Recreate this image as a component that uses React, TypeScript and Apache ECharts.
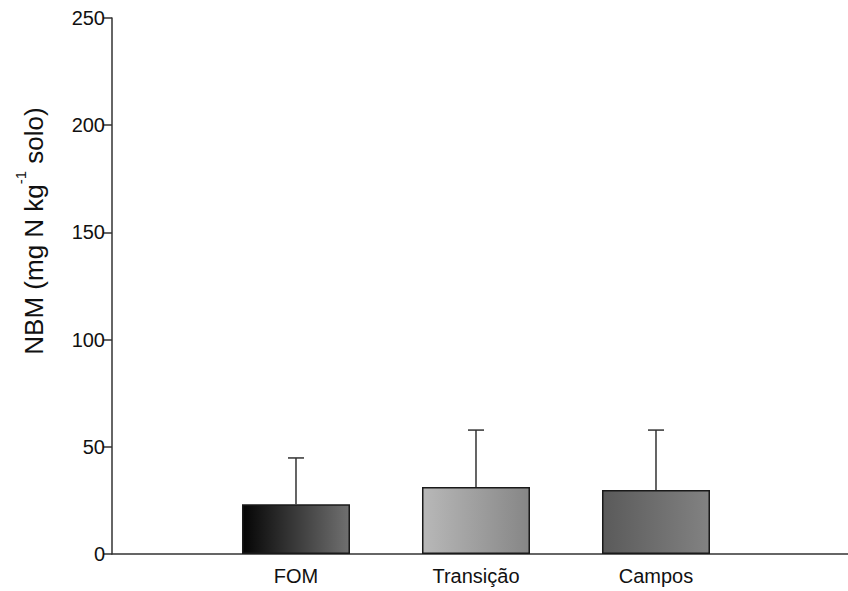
import React, { useEffect, useRef } from "react";
import * as echarts from "echarts";

const categories = ["FOM", "Transição", "Campos"];
const means = [23.2, 31.3, 29.9];
const errors = [21.6, 26.5, 27.9];
const yTicks = [0, 50, 100, 150, 200, 250];
const gradients = [
  ["#050505", "#707070"],
  ["#b8b8b8", "#868686"],
  ["#5a5a5a", "#828282"],
];

export default function App() {
  const ref = useRef<HTMLDivElement>(null);
  useEffect(() => {
    if (!ref.current) return;
    const chart = echarts.init(ref.current, null, { renderer: "svg" });
    const positions = categories.map((_, i) => i + 1);
    chart.setOption({
      animation: false,
      backgroundColor: "#ffffff",
      grid: { left: 112, right: 0, top: 18, bottom: 37 },
      xAxis: {
        type: "value",
        min: -0.0222,
        max: 4.0667,
        axisLine: { show: true, onZero: false, lineStyle: { color: "#333", width: 1.5 } },
        axisTick: { show: false },
        splitLine: { show: false },
        axisLabel: {
          customValues: positions,
          formatter: (v: number) => categories[Math.round(v) - 1] ?? "",
          fontFamily: "Liberation Sans, Arial, sans-serif",
          fontSize: 20,
          color: "#111",
          margin: 12,
        },
      },
      yAxis: {
        type: "value",
        min: yTicks[0],
        max: yTicks[yTicks.length - 1],
        interval: 50,
        axisLine: { show: true, onZero: false, lineStyle: { color: "#333", width: 1.5 } },
        axisTick: { show: true, inside: false, length: 9, lineStyle: { color: "#333", width: 1.5 } },
        splitLine: { show: false },
        axisLabel: {
          fontFamily: "Liberation Sans, Arial, sans-serif",
          fontSize: 20,
          color: "#111",
          margin: 7,
        },
      },
      graphic: [
        {
          type: "text",
          x: 30,
          y: 231,
          rotation: Math.PI / 2,
          style: {
            text: "{a|NBM (mg N kg}{s|-1}{a| solo)}",
            align: "center",
            verticalAlign: "middle",
            fill: "#111",
            rich: {
              a: {
                fontFamily: "Liberation Sans, Arial, sans-serif",
                fontSize: 26,
                lineHeight: 34,
                verticalAlign: "bottom",
                fill: "#111",
              },
              s: {
                fontFamily: "Liberation Sans, Arial, sans-serif",
                fontSize: 15,
                lineHeight: 15,
                verticalAlign: "top",
                fill: "#111",
              },
            },
          },
        },
      ],
      series: [
        {
          type: "bar",
          barWidth: 108,
          data: means.map((m, i) => ({
            value: [positions[i], m],
            itemStyle: {
              color: new echarts.graphic.LinearGradient(0, 0, 1, 0, [
                { offset: 0, color: gradients[i][0] },
                { offset: 1, color: gradients[i][1] },
              ]),
              borderColor: "#1a1a1a",
              borderWidth: 1.5,
            },
          })),
          z: 2,
        },
        {
          type: "custom",
          z: 1,
          data: means.map((m, i) => [positions[i], m, m + errors[i]]),
          renderItem: (params: any, api: any) => {
            const x = api.value(0);
            const lo = api.coord([x, api.value(1)]);
            const hi = api.coord([x, api.value(2)]);
            const half = 8;
            return {
              type: "group",
              children: [
                {
                  type: "line",
                  shape: { x1: lo[0], y1: lo[1], x2: hi[0], y2: hi[1] },
                  style: { stroke: "#333", lineWidth: 1.5 },
                },
                {
                  type: "line",
                  shape: { x1: hi[0] - half, y1: hi[1], x2: hi[0] + half, y2: hi[1] },
                  style: { stroke: "#333", lineWidth: 1.5 },
                },
              ],
            };
          },
        },
      ],
    });
    return () => chart.dispose();
  }, []);
  return (
    <div
      ref={ref}
      style={{ position: "fixed", left: 0, top: 0, width: 848, height: 591, background: "#fff" }}
    />
  );
}
